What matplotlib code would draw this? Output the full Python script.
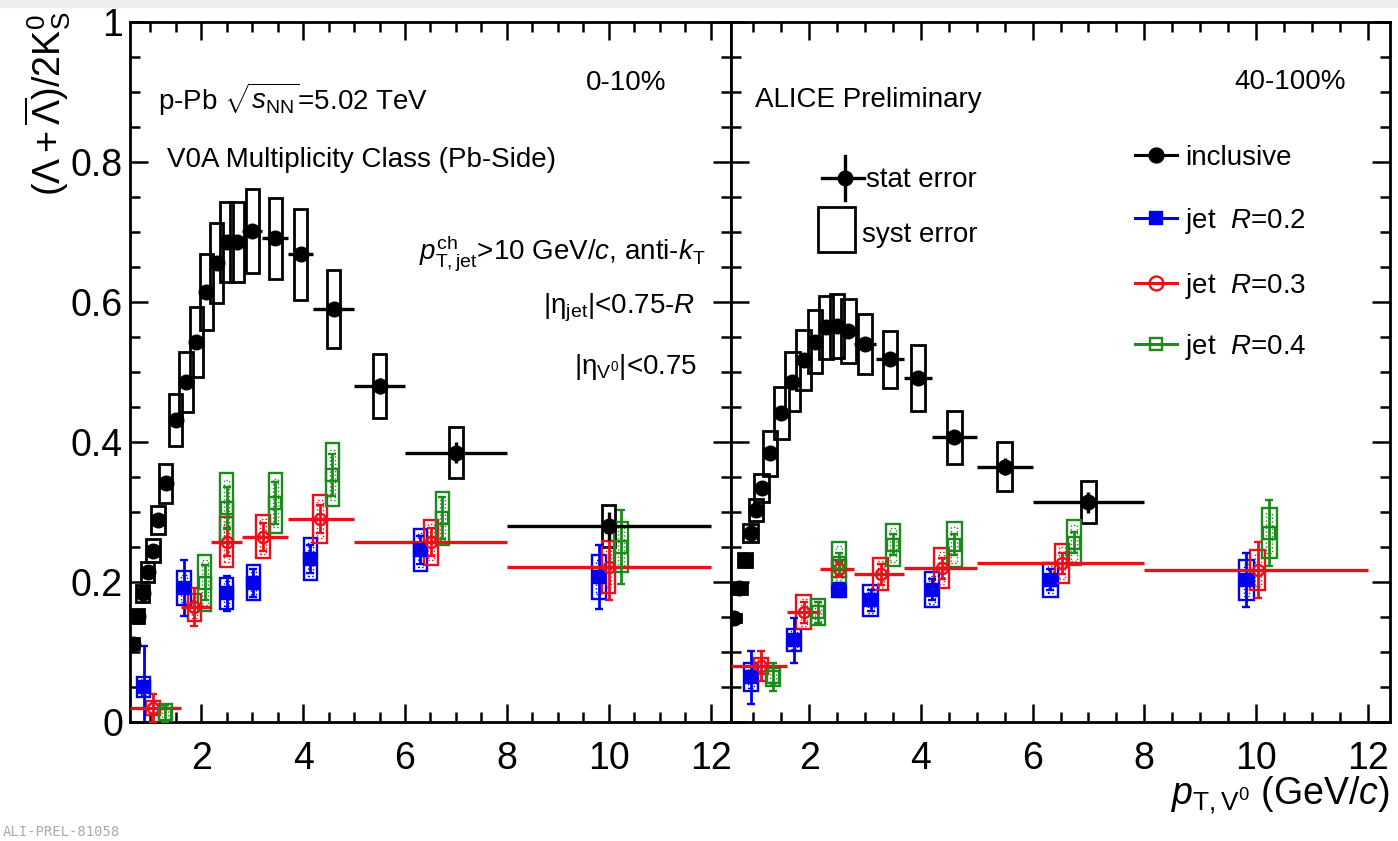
import matplotlib
matplotlib.use("Agg")
import matplotlib.pyplot as plt
from matplotlib.patches import Rectangle
from matplotlib.ticker import MultipleLocator, FuncFormatter

plt.rcParams['font.family'] = ['Liberation Sans', 'DejaVu Sans']
plt.rcParams['mathtext.fontset'] = 'custom'
plt.rcParams['mathtext.rm'] = 'Liberation Sans'
plt.rcParams['mathtext.it'] = 'Liberation Sans:italic'
plt.rcParams['mathtext.bf'] = 'Liberation Sans:bold'

# ---- inclusive (Lambda+antiLambda)/2K0s ----
incl_pt = [0.65, 0.75, 0.85, 0.95, 1.05, 1.15, 1.3, 1.5, 1.7, 1.9, 2.1,
           2.3, 2.5, 2.7, 3.0, 3.45, 3.95, 4.6, 5.5, 7.0, 10.0]
incl_pt_err = [0.05, 0.05, 0.05, 0.05, 0.05, 0.05, 0.1, 0.1, 0.1, 0.1, 0.1,
               0.1, 0.1, 0.1, 0.2, 0.25, 0.25, 0.4, 0.5, 1.0, 2.0]

incl_0_10 = [0.112, 0.152, 0.184, 0.214, 0.245, 0.289, 0.341, 0.431, 0.486, 0.543, 0.614,
             0.656, 0.686, 0.686, 0.701, 0.691, 0.668, 0.590, 0.480, 0.385, 0.280]
incl_0_10_stat = [0.003, 0.003, 0.003, 0.003, 0.003, 0.004, 0.004, 0.005, 0.005, 0.006, 0.006,
                  0.007, 0.007, 0.008, 0.008, 0.009, 0.010, 0.010, 0.012, 0.015, 0.020]
incl_0_10_syst = [0.008, 0.010, 0.012, 0.014, 0.016, 0.020, 0.028, 0.037, 0.043, 0.050, 0.054,
                  0.057, 0.057, 0.057, 0.060, 0.058, 0.065, 0.056, 0.046, 0.037, 0.030]

incl_40_100 = [0.149, 0.191, 0.231, 0.270, 0.303, 0.334, 0.384, 0.441, 0.486, 0.517, 0.543,
               0.564, 0.566, 0.559, 0.540, 0.518, 0.491, 0.407, 0.365, 0.314]
incl_40_100_stat = [0.003, 0.003, 0.003, 0.003, 0.004, 0.004, 0.004, 0.005, 0.005, 0.006, 0.006,
                    0.007, 0.007, 0.008, 0.008, 0.009, 0.010, 0.010, 0.012, 0.015]
incl_40_100_syst = [0.006, 0.008, 0.010, 0.013, 0.016, 0.020, 0.032, 0.037, 0.042, 0.043, 0.045,
                    0.045, 0.046, 0.046, 0.043, 0.041, 0.047, 0.038, 0.035, 0.030]

# ---- in-jet ratios, anti-kT R = 0.2 / 0.3 / 0.4 ----
jet_edges = [0.6, 1.6, 2.2, 2.8, 3.7, 5.0, 8.0, 12.0]

# 0-10%
r02_x_a = [0.87, 1.66, 2.50, 3.02, 4.14, 6.30, 9.81]
r02_y_a = [0.050, 0.191, 0.184, 0.199, 0.233, 0.246, 0.207]
r02_stat_a = [0.058, 0.040, 0.025, 0.020, 0.020, 0.020, 0.046]
r02_syst_a = [0.014, 0.024, 0.022, 0.025, 0.030, 0.030, 0.031]
r03_x_a = [1.05, 1.86, 2.50, 3.21, 4.33, 6.51, 10.00]
r03_y_a = [0.020, 0.164, 0.257, 0.265, 0.290, 0.257, 0.222]
r03_stat_a = [0.020, 0.027, 0.020, 0.020, 0.020, 0.020, 0.048]
r03_syst_a = [0.010, 0.019, 0.036, 0.031, 0.034, 0.032, 0.037]
r04_x_a = [1.29, 2.07, 2.50, 3.45, 4.57, 6.73, 10.24]
r04_y_a = [0.012, 0.199, 0.306, 0.313, 0.353, 0.291, 0.250]
r04_stat_a = [0.012, 0.025, 0.030, 0.030, 0.030, 0.030, 0.053]
r04_syst_a = [0.014, 0.040, 0.050, 0.043, 0.045, 0.038, 0.036]

# 40-100%
r02_x_b = [0.96, 1.73, 2.53, 3.10, 4.20, 6.32, 9.83]
r02_y_b = [0.064, 0.117, 0.189, 0.174, 0.189, 0.203, 0.203]
r02_stat_b = [0.038, 0.032, 0.010, 0.015, 0.015, 0.015, 0.038]
r02_syst_b = [0.020, 0.016, 0.010, 0.022, 0.025, 0.024, 0.028]
r03_x_b = [1.14, 1.90, 2.53, 3.28, 4.37, 6.53, 10.03]
r03_y_b = [0.080, 0.157, 0.219, 0.211, 0.220, 0.227, 0.217]
r03_stat_b = [0.022, 0.015, 0.010, 0.015, 0.015, 0.015, 0.040]
r03_syst_b = [0.012, 0.024, 0.012, 0.023, 0.028, 0.028, 0.029]
r04_x_b = [1.35, 2.16, 2.53, 3.50, 4.60, 6.74, 10.24]
r04_y_b = [0.064, 0.157, 0.227, 0.253, 0.253, 0.256, 0.270]
r04_stat_b = [0.020, 0.015, 0.015, 0.015, 0.015, 0.015, 0.047]
r04_syst_b = [0.013, 0.019, 0.030, 0.030, 0.032, 0.032, 0.036]

BLUE = '#0000ee'
RED = '#e8101a'
GREEN = '#1e8a1e'


def syst_boxes(ax, xs, ys, errs, width, color, lw, inner=False):
    for x, y, e in zip(xs, ys, errs):
        ax.add_patch(Rectangle((x - width / 2, y - e), width, 2 * e,
                               fill=False, ec=color, lw=lw, zorder=3))
        if inner:
            ax.add_patch(Rectangle((x - width / 5, y - e * 0.8), width * 0.4, 1.6 * e,
                                   fill=False, ec=color, lw=1.0, ls=':', zorder=3))


def jet_series(ax, xs, ys, stat, syst, color, marker, filled, with_bins=False):
    syst_boxes(ax, xs, ys, syst, 0.26, color, 1.7, inner=True)
    if with_bins:
        # horizontal bars spanning the jet pT bins
        lo = [x - jet_edges[i] for i, x in enumerate(xs)]
        hi = [jet_edges[i + 1] - x for i, x in enumerate(xs)]
        ax.errorbar(xs, ys, xerr=[lo, hi], fmt='none', ecolor=color, lw=2.4,
                    capsize=0, zorder=4)
    ax.errorbar(xs, ys, yerr=stat, fmt=marker, color=color, ms=8,
                mfc=color if filled else 'none', mec=color, mew=1.7,
                lw=2.0, capsize=3, capthick=1.7, zorder=4)


def draw_panel(ax, incl, incl_stat, incl_syst, jets):
    n = len(incl)
    syst_boxes(ax, incl_pt[:n], incl, incl_syst, 0.26, 'black', 2.0)
    ax.errorbar(incl_pt[:n], incl, xerr=incl_pt_err[:n], yerr=incl_stat, fmt='o',
                color='black', ms=10.5, lw=2.4, capsize=0, zorder=5)
    for args in jets:
        jet_series(ax, *args)

    ax.set_xlim(0.6, 12.4)
    ax.set_ylim(0, 1)
    ax.xaxis.set_major_locator(MultipleLocator(2))
    ax.xaxis.set_minor_locator(MultipleLocator(0.5))
    ax.yaxis.set_major_locator(MultipleLocator(0.2))
    ax.yaxis.set_minor_locator(MultipleLocator(0.05))
    ax.tick_params(which='both', direction='in', top=True, right=True, width=1.8)
    ax.tick_params(which='major', length=13, labelsize=27)
    ax.tick_params(which='minor', length=7)
    ax.tick_params(axis='x', pad=14)
    ax.tick_params(axis='y', pad=5)
    for sp in ax.spines.values():
        sp.set_linewidth(2)


fig = plt.figure(figsize=(13.98, 8.41), dpi=100)
fig.patches.append(Rectangle((0, 1 - 7 / 841), 1, 7 / 841, transform=fig.transFigure,
                             color='#eeeeee', zorder=0))

ax1 = fig.add_axes([130 / 1398, 119 / 841, 601 / 1398, 700 / 841])
ax2 = fig.add_axes([731 / 1398, 119 / 841, 659 / 1398, 700 / 841])

draw_panel(ax1, incl_0_10, incl_0_10_stat, incl_0_10_syst, [
    (r02_x_a, r02_y_a, r02_stat_a, r02_syst_a, BLUE, 's', True),
    (r03_x_a, r03_y_a, r03_stat_a, r03_syst_a, RED, 'o', False, True),
    (r04_x_a, r04_y_a, r04_stat_a, r04_syst_a, GREEN, 's', False),
])
draw_panel(ax2, incl_40_100, incl_40_100_stat, incl_40_100_syst, [
    (r02_x_b, r02_y_b, r02_stat_b, r02_syst_b, BLUE, 's', True),
    (r03_x_b, r03_y_b, r03_stat_b, r03_syst_b, RED, 'o', False, True),
    (r04_x_b, r04_y_b, r04_stat_b, r04_syst_b, GREEN, 's', False),
])

ax1.yaxis.set_major_formatter(FuncFormatter(lambda v, _: '%g' % round(v, 2)))
ax2.tick_params(axis='y', labelleft=False)

# annotations, left panel
ax1.text(0.047, 0.889, r'p-Pb $\sqrt{s_{\mathrm{NN}}}$=5.02 TeV', transform=ax1.transAxes,
         fontsize=20, va='center', ha='left')
ax1.text(0.825, 0.913, '0-10%', transform=ax1.transAxes, fontsize=20, va='center', ha='center')
ax1.text(0.062, 0.803, 'V0A Multiplicity Class (Pb-Side)', transform=ax1.transAxes,
         fontsize=20, va='center', ha='left')
ax1.text(0.957, 0.67, r'$p_{\mathrm{T,jet}}^{\mathrm{ch}}$>10 GeV/$c$, anti-$k_{\mathrm{T}}$',
         transform=ax1.transAxes, fontsize=20, va='center', ha='right')
ax1.text(0.94, 0.591, r'|$\mathrm{\eta}_{\mathrm{jet}}$|<0.75-$R$', transform=ax1.transAxes,
         fontsize=20, va='center', ha='right')
ax1.text(0.943, 0.507, r'|$\mathrm{\eta}_{\mathrm{V^{0}}}$|<0.75', transform=ax1.transAxes,
         fontsize=20, va='center', ha='right')

# annotations, right panel
ax2.text(0.036, 0.889, 'ALICE Preliminary', transform=ax2.transAxes, fontsize=20,
         va='center', ha='left')
ax2.text(0.848, 0.914, '40-100%', transform=ax2.transAxes, fontsize=20, va='center', ha='center')

# error-type key
tA = ax2.transAxes
ax2.plot([0.138, 0.202], [0.777, 0.777], color='black', lw=2.4, transform=tA, clip_on=False)
ax2.plot([0.173, 0.173], [0.746, 0.808], color='black', lw=2.4, transform=tA, clip_on=False)
ax2.plot([0.173], [0.777], 'o', color='black', ms=10.5, transform=tA, clip_on=False)
ax2.text(0.205, 0.774, 'stat error', transform=tA, fontsize=20, va='center', ha='left')
ax2.add_patch(Rectangle((0.132, 0.671), 0.056, 0.065, transform=tA, fill=False,
                        ec='black', lw=2.0))
ax2.text(0.199, 0.696, 'syst error', transform=tA, fontsize=20, va='center', ha='left')

# series key
key = [('inclusive', 'black', 'o', 'black', 0.81),
       (r'jet  $R$=0.2', BLUE, 's', BLUE, 0.72),
       (r'jet  $R$=0.3', RED, 'o', 'none', 0.627),
       (r'jet  $R$=0.4', GREEN, 's', 'none', 0.54)]
for label, col, mk, mfc, yy in key:
    ax2.plot([0.613, 0.677], [yy, yy], color=col, lw=2.2, transform=tA)
    ax2.plot([0.645], [yy], marker=mk, color=col, mfc=mfc, mec=col, mew=1.7,
             ms=10 if mk == 'o' else 8, transform=tA)
    ax2.text(0.689, yy - 0.004, label, transform=tA, fontsize=20, va='center', ha='left')

# axis titles
fig.text(48 / 1398, 1 - 12 / 841, r'$(\Lambda+\overline{\Lambda})/2\mathrm{K}^{0}_{\mathrm{S}}$',
         rotation=90, fontsize=27, ha='center', va='top')
fig.text(1390 / 1398, 1 - 795 / 841, r'$p_{\mathrm{T,V^{0}}}$ (GeV/$c$)',
         fontsize=27, ha='right', va='center')
fig.text(0.002, 2 / 841, 'ALI-PREL-81058', fontsize=10, color='#aaaaaa',
         family='DejaVu Sans Mono', ha='left', va='bottom')

fig.savefig('out.png', dpi=100)
